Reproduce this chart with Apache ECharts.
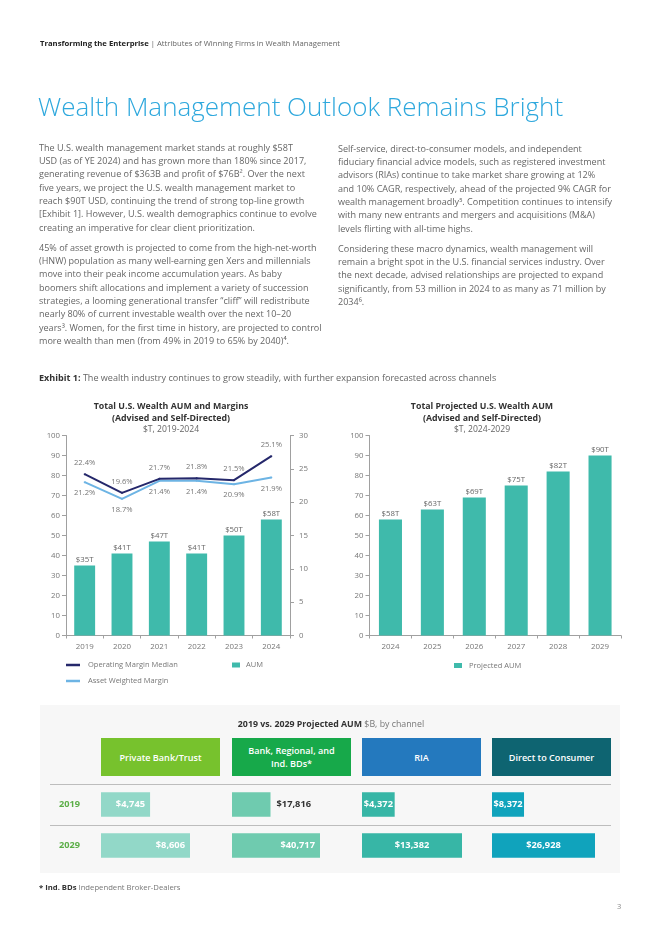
<!DOCTYPE html>
<html><head><meta charset="utf-8">
<script src="https://cdn.jsdelivr.net/npm/echarts@6/dist/echarts.min.js"></script>
<style>
html,body{margin:0;padding:0;background:#fff;}
body{width:662px;height:936px;position:relative;overflow:hidden;font-family:"Open Sans","Noto Sans",sans-serif;}
.abs{position:absolute;white-space:nowrap;}
.hdr{left:40px;top:37px;font-size:7.7px;color:#666;line-height:12px;}
.hdr b{color:#222;font-weight:700;}
.title{left:38px;top:88px;font-size:26px;font-weight:300;color:#2EA8DD;line-height:36px;}
.body{font-size:9.05px;color:#666;line-height:13.33px;}
.body p{margin:0 0 6.67px 0;}
.exh{left:39px;top:372px;font-size:9.05px;color:#666;line-height:12px;}
.exh b{color:#333;}
#panel{position:absolute;left:40px;top:705px;width:580px;height:168px;background:#F7F7F7;}
#chart{position:absolute;left:0;top:0;width:662px;height:936px;}
.sep{position:absolute;left:50px;width:561px;height:1px;background:#BDBDBD;}
.chead{position:absolute;top:738px;height:38px;width:119px;display:flex;align-items:center;justify-content:center;text-align:center;color:#fff;font-weight:600;font-size:9.1px;line-height:13px;white-space:pre;}
.ptitle{left:0;width:662px;text-align:center;top:718px;font-size:8.8px;color:#333;line-height:12px;}
.ptitle span{color:#777;font-weight:400;}
.foot{left:39px;top:881px;font-size:7.7px;color:#777;line-height:12px;}
.foot b{color:#333;}
.pnum{left:617px;top:900px;font-size:7.5px;color:#888;line-height:12px;}
</style></head>
<body>
<div id="panel"></div>
<div class="sep" style="top:784px"></div>
<div class="sep" style="top:825px"></div>
<div id="heads"></div>
<div id="chart"></div>
<div class="abs hdr"><b>Transforming the Enterprise</b> | Attributes of Winning Firms in Wealth Management</div>
<div class="abs title">Wealth Management Outlook Remains Bright</div>
<div class="abs body" style="left:39px;top:140.7px;">
<p>The U.S. wealth management market stands at roughly $58T<br>USD (as of YE 2024) and has grown more than 180% since 2017,<br>generating revenue of $363B and profit of $76B². Over the next<br>five years, we project the U.S. wealth management market to<br>reach $90T USD, continuing the trend of strong top-line growth<br>[Exhibit 1]. However, U.S. wealth demographics continue to evolve<br>creating an imperative for clear client prioritization.</p>
<p>45% of asset growth is projected to come from the high-net-worth<br>(HNW) population as many well-earning gen Xers and millennials<br>move into their peak income accumulation years. As baby<br>boomers shift allocations and implement a variety of succession<br>strategies, a looming generational transfer “cliff” will redistribute<br>nearly 80% of current investable wealth over the next 10–20<br>years³. Women, for the first time in history, are projected to control<br>more wealth than men (from 49% in 2019 to 65% by 2040)⁴.</p>
</div>
<div class="abs body" style="left:338px;top:141.7px;">
<p>Self-service, direct-to-consumer models, and independent<br>fiduciary financial advice models, such as registered investment<br>advisors (RIAs) continue to take market share growing at 12%<br>and 10% CAGR, respectively, ahead of the projected 9% CAGR for<br>wealth management broadly⁵. Competition continues to intensify<br>with many new entrants and mergers and acquisitions (M&amp;A)<br>levels flirting with all-time highs.</p>
<p>Considering these macro dynamics, wealth management will<br>remain a bright spot in the U.S. financial services industry. Over<br>the next decade, advised relationships are projected to expand<br>significantly, from 53 million in 2024 to as many as 71 million by<br>2034⁶.</p>
</div>
<div class="abs exh"><b>Exhibit 1:</b> The wealth industry continues to grow steadily, with further expansion forecasted across channels</div>
<div class="abs ptitle"><b>2019 vs. 2029 Projected AUM</b> <span>$B, by channel</span></div>
<div class="abs foot"><b>* Ind. BDs</b> Independent Broker-Dealers</div>
<div class="abs pnum">3</div>
<script>
// ---- data ----
const years1 = ['2019','2020','2021','2022','2023','2024'];
const aum1 = [35,41,47,41,50,58];
const opMargin = [22.4,19.6,21.7,21.8,21.5,25.1];
const assetMargin = [21.2,18.7,21.4,21.4,20.9,21.9];
const years2 = ['2024','2025','2026','2027','2028','2029'];
const aum2 = [58,63,69,75,82,90];
const channels = ['Private Bank/Trust','Bank, Regional, and\nInd. BDs*','RIA','Direct to Consumer'];
const rowYears = ['2019','2029'];
const aum2019 = [4745,17816,4372,8372];
const aum2029 = [8606,40717,13382,26928];

// ---- styling / layout ----
const headColors = ['#77C22D','#17A94A','#2479BE','#0E6471'];
const barColors = ['#92D8C8','#6FCBAF','#37B6A6','#10A3BC'];
const chLeft = [101,232,362,492];
const chMax = [11507,55060,15925,31110];
const heads = document.getElementById('heads');
channels.forEach((c,i)=>{
  const d=document.createElement('div');d.className='chead';
  d.style.left=chLeft[i]+'px';d.style.background=headColors[i];d.textContent=c;heads.appendChild(d);
});

const FONT = '"Open Sans", "Noto Sans", sans-serif';
const axisCol = '#A0A0A0';
const lblCol = '#777';
const teal = '#3FBAAB';
const navy = '#25286B';
const light = '#6DB4E4';

function valAxis(gi, pos, min, max, interval, extra){
  return Object.assign({type:'value', gridIndex:gi, position:pos, min, max, interval,
    axisLine:{show:true,lineStyle:{color:axisCol,width:1}},
    axisTick:{show:true,length:4,lineStyle:{color:axisCol}},
    splitLine:{show:false},
    axisLabel:{color:lblCol,fontSize:7.8,fontFamily:FONT,margin:6}}, extra||{});
}
function catAxis(gi, data){
  return {type:'category', gridIndex:gi, data,
    axisLine:{show:true,lineStyle:{color:axisCol}},
    axisTick:{show:true,length:3,lineStyle:{color:axisCol}},
    axisLabel:{color:lblCol,fontSize:7.9,fontFamily:FONT,margin:7}};
}

const grids = [
  {left:66, top:435.5, width:224, height:200},
  {left:369.5, top:435.5, width:251.5, height:200}
];
chLeft.forEach(l=>grids.push({left:l, top:784, width:119, height:82}));

const xAxes = [catAxis(0,years1), catAxis(1,years2)];
const yAxes = [
  valAxis(0,'left',0,100,10),
  valAxis(0,'right',0,30,5,{axisLabel:{color:lblCol,fontSize:7.8,fontFamily:FONT,margin:9}}),
  {type:'value',gridIndex:0,min:-1.8,max:28.2,show:false},
  valAxis(1,'left',0,100,10)
];
chLeft.forEach((l,i)=>{
  xAxes.push({type:'value',gridIndex:2+i,min:0,max:chMax[i],show:false});
  yAxes.push({type:'category',gridIndex:2+i,data:rowYears,inverse:true,show:i===0,
    axisLine:{show:false},axisTick:{show:false},
    axisLabel:{color:'#5BAE47',fontWeight:'bold',fontSize:9.2,fontFamily:FONT,margin:21}});
});

const barLabel = {show:true,position:'top',distance:2,color:'#666',fontSize:7.8,fontFamily:FONT,formatter:p=>'$'+p.value+'T'};
const series = [
  {name:'AUM',type:'bar',xAxisIndex:0,yAxisIndex:0,data:aum1,barWidth:'56%',itemStyle:{color:teal},label:barLabel,z:2},
  {name:'Operating Margin Median',type:'line',xAxisIndex:0,yAxisIndex:2,data:opMargin,symbol:'circle',symbolSize:2,
    lineStyle:{color:navy,width:2},itemStyle:{color:navy},z:4,
    label:{show:true,position:'top',distance:6,color:'#777',fontSize:7.6,fontFamily:FONT,formatter:p=>p.value.toFixed(1)+'%'}},
  {name:'Asset Weighted Margin',type:'line',xAxisIndex:0,yAxisIndex:2,data:assetMargin,symbol:'circle',symbolSize:2,
    lineStyle:{color:light,width:2},itemStyle:{color:light},z:3,
    label:{show:true,position:'bottom',distance:6,color:'#777',fontSize:7.6,fontFamily:FONT,formatter:p=>p.value.toFixed(1)+'%'}},
  {name:'Projected AUM',type:'bar',xAxisIndex:1,yAxisIndex:3,data:aum2,barWidth:'55%',itemStyle:{color:teal},label:barLabel}
];
const fmt = v=>'$'+v.toLocaleString('en-US');
chLeft.forEach((l,i)=>{
  const mk=(v,yi)=>{
    let lab;
    if(i<2){
      if(i===1 && yi===0) lab={position:'right',color:'#333',distance:6};
      else lab={position:'insideRight',color:'#fff',distance:5};
    } else lab={position:'inside',color:'#fff'};
    return {value:v,label:Object.assign({show:true,fontWeight:'bold',fontSize:9.3,fontFamily:FONT,formatter:p=>fmt(p.value)},lab)};
  };
  series.push({name:'ch'+i,type:'bar',xAxisIndex:2+i,yAxisIndex:4+i,barWidth:24.5,
    itemStyle:{color:barColors[i]},data:[mk(aum2019[i],0),mk(aum2029[i],1)]});
});

const titleStyle = {color:'#333',fontWeight:'bold',fontSize:8.8,lineHeight:12,fontFamily:FONT};
const subStyle = {color:'#666',fontSize:8.6,lineHeight:12,fontFamily:FONT};
const option = {
  animation:false,
  title:[
    {text:'Total U.S. Wealth AUM and Margins\n(Advised and Self-Directed)',subtext:'$T, 2019-2024',left:171,top:400,textAlign:'center',padding:0,itemGap:0,textStyle:titleStyle,subtextStyle:subStyle},
    {text:'Total Projected U.S. Wealth AUM\n(Advised and Self-Directed)',subtext:'$T, 2024-2029',left:482,top:400,textAlign:'center',padding:0,itemGap:0,textStyle:titleStyle,subtextStyle:subStyle}
  ],
  grid:grids, xAxis:xAxes, yAxis:yAxes, series,
  legend:[
    {data:[{name:'Operating Margin Median',icon:'rect'},{name:'Asset Weighted Margin',icon:'rect'}],orient:'vertical',left:66,top:661,itemWidth:14,itemHeight:2.5,itemGap:8,selectedMode:false,padding:0,
      textStyle:{color:'#777',fontSize:7.5,fontFamily:FONT,padding:[0,0,0,3]}},
    {data:[{name:'AUM',icon:'rect'}],left:232,top:661,itemWidth:8,itemHeight:5,selectedMode:false,padding:0,
      textStyle:{color:'#777',fontSize:7.5,fontFamily:FONT,padding:[0,0,0,1]}},
    {data:[{name:'Projected AUM',icon:'rect'}],left:454,top:661.5,itemWidth:8,itemHeight:5,selectedMode:false,padding:0,
      textStyle:{color:'#777',fontSize:7.5,fontFamily:FONT,padding:[0,0,0,2]}}
  ]
};
const chart = echarts.init(document.getElementById('chart'),null,{renderer:'canvas'});
chart.setOption(option);
</script>
</body></html>
